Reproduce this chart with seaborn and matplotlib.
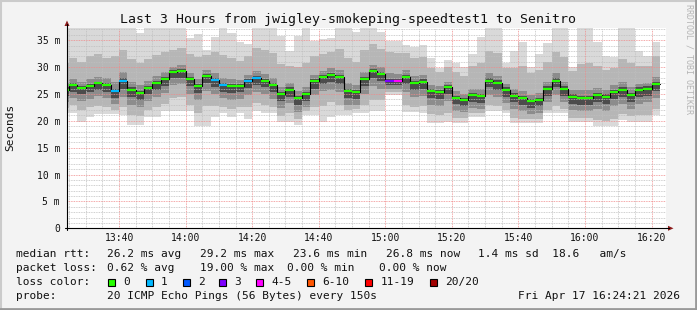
import numpy as np
import pandas as pd
import matplotlib
matplotlib.use("Agg")
import matplotlib.pyplot as plt
import seaborn as sns
from matplotlib.patches import Rectangle, Polygon
from matplotlib.ticker import FixedLocator

W, H, DPI = 697, 310, 100

# ---------------- data (milliseconds), one value per 150 s step -------------
step_minutes = 2.5            # 150 s
first_step_start = 22.5       # 13:22:30, minutes after 13:00
view_start, view_end = 24.35, 204.35   # 13:24:21 .. 16:24:21

median_ms = [25.77, 26.64, 26.14, 26.51, 26.96, 26.70, 25.58, 27.44, 25.77, 25.15,
             26.14, 27.01, 27.75, 29.06, 29.20, 27.76, 26.51, 28.37, 27.63, 26.70,
             26.51, 26.51, 27.44, 27.88, 27.44, 26.64, 24.97, 25.77, 24.28, 24.97,
             27.38, 28.13, 28.50, 28.13, 25.52, 25.34, 27.75, 29.20, 28.74, 27.38,
             27.38, 28.19, 27.01, 27.26, 25.58, 25.34, 26.27, 24.28, 23.91, 24.78,
             24.59, 27.44, 27.07, 25.77, 24.65, 24.28, 23.66, 23.91, 25.96, 27.44,
             25.96, 24.47, 24.28, 24.28, 24.78, 24.47, 25.40, 25.77, 24.78, 25.77,
             25.96, 26.89]

loss_count = [0, 0, 0, 0, 0, 0, 1, 1, 0, 0,
              0, 0, 0, 0, 0, 0, 0, 0, 1, 1,
              0, 0, 1, 1, 0, 0, 0, 0, 0, 0,
              0, 0, 0, 0, 0, 0, 0, 0, 0, 3,
              4, 0, 0, 0, 0, 0, 0, 0, 0, 0,
              0, 0, 0, 0, 0, 0, 0, 0, 0, 0,
              0, 0, 0, 0, 0, 0, 0, 0, 0, 0,
              0, 0]

hi_ms = [37.5, 37.5, 37.5, 37.5, 37.5, 37.5, 37.5, 37.5, 37.5, 36.4,
         37.5, 37.5, 37.5, 37.5, 37.5, 35.4, 36.2, 33.2, 35.6, 37.5,
         36.3, 34.6, 34.3, 37.5, 37.5, 37.5, 35.8, 33.0, 35.8, 37.5,
         34.8, 35.3, 35.4, 37.5, 37.5, 36.6, 37.5, 37.5, 36.6, 34.8,
         34.8, 34.1, 33.8, 34.1, 31.6, 29.8, 31.3, 30.7, 30.0, 32.5,
         35.6, 37.5, 37.5, 30.7, 33.0, 34.6, 30.0, 32.5, 34.4, 37.5,
         37.5, 30.0, 37.5, 37.5, 34.6, 32.0, 31.8, 37.5, 37.5, 33.0,
         32.0, 34.6]

lo_ms = [21.4, 21.4, 19.8, 20.7, 21.2, 21.3, 21.2, 21.0, 19.2, 19.2,
         20.7, 20.7, 21.8, 21.8, 21.8, 21.8, 19.0, 19.0, 20.7, 21.4,
         20.7, 21.4, 20.4, 21.8, 21.4, 21.4, 19.8, 19.8, 19.2, 21.0,
         21.0, 19.8, 20.7, 21.0, 21.0, 21.5, 21.5, 21.8, 21.8, 24.8,
         24.8, 21.6, 21.6, 21.4, 19.5, 19.5, 19.8, 19.5, 19.5, 20.7,
         20.7, 21.8, 21.8, 21.4, 19.5, 19.5, 19.5, 19.5, 21.4, 21.4,
         21.4, 19.8, 19.8, 19.8, 19.0, 19.0, 19.0, 20.2, 19.8, 19.8,
         19.8, 21.0]

a_hi_ms = [30.7, 31.6, 31.0, 32.1, 32.4, 31.7, 32.0, 33.2, 31.4, 30.8,
           31.4, 32.2, 32.7, 33.1, 33.5, 32.4, 31.8, 32.2, 32.8, 32.2,
           31.6, 31.2, 32.1, 33.6, 33.2, 32.6, 30.6, 30.1, 30.0, 30.8,
           32.0, 32.5, 32.8, 33.4, 31.6, 31.0, 33.2, 34.2, 33.4, 32.8,
           32.6, 32.6, 31.7, 31.9, 29.8, 29.1, 30.0, 29.0, 28.4, 30.1,
           30.7, 33.0, 32.6, 29.9, 29.8, 30.1, 28.8, 29.5, 31.0, 32.7,
           31.8, 29.2, 30.6, 30.8, 30.2, 29.4, 29.8, 31.4, 30.8, 30.2,
           30.2, 32.0]

b_hi_ms = [27.0, 27.8, 27.3, 27.7, 28.2, 27.9, 27.2, 29.0, 27.3, 26.6,
           27.4, 28.3, 29.0, 30.0, 30.3, 28.9, 27.8, 29.4, 28.8, 28.0,
           27.7, 27.6, 28.6, 29.2, 28.7, 28.0, 26.2, 27.0, 25.6, 26.3,
           28.6, 29.3, 29.8, 29.4, 27.0, 26.6, 29.1, 30.4, 30.0, 28.8,
           28.7, 29.4, 28.3, 28.5, 26.7, 26.4, 27.3, 25.5, 25.0, 26.0,
           25.9, 28.8, 28.4, 26.9, 25.9, 25.5, 24.8, 25.1, 27.3, 28.8,
           27.2, 25.7, 25.7, 25.8, 26.1, 25.7, 26.6, 27.2, 26.2, 26.9,
           27.1, 28.2]

c_hi_ms = [26.2, 27.0, 26.5, 26.9, 27.3, 27.1, 26.0, 27.9, 26.2, 25.6,
           26.5, 27.4, 28.1, 29.4, 29.6, 28.1, 26.9, 28.7, 28.0, 27.1,
           26.9, 26.9, 27.8, 28.3, 27.8, 27.0, 25.3, 26.2, 24.7, 25.4,
           27.8, 28.5, 28.9, 28.5, 26.0, 25.8, 28.2, 29.6, 29.1, 27.8,
           27.8, 28.6, 27.4, 27.7, 26.0, 25.7, 26.6, 24.7, 24.3, 25.2,
           25.0, 27.9, 27.5, 26.2, 25.1, 24.7, 24.1, 24.3, 26.4, 27.9,
           26.4, 24.9, 24.7, 24.7, 25.2, 24.9, 25.8, 26.2, 25.2, 26.2,
           26.4, 27.3]

c_lo_ms = [24.6, 25.4, 24.9, 25.3, 25.8, 25.4, 24.3, 25.9, 24.4, 23.9,
           24.9, 25.7, 26.4, 27.9, 28.0, 26.5, 25.1, 27.0, 26.3, 25.4,
           25.2, 25.3, 26.1, 26.6, 26.2, 25.3, 23.6, 24.5, 22.9, 23.7,
           26.0, 26.9, 27.2, 26.8, 24.2, 24.0, 26.4, 27.9, 27.4, 26.6,
           26.6, 26.9, 25.7, 26.0, 24.3, 24.1, 25.0, 23.1, 22.7, 23.5,
           23.3, 26.2, 25.8, 24.5, 23.4, 23.0, 22.4, 22.7, 24.7, 26.2,
           24.7, 23.2, 23.0, 23.0, 23.5, 23.2, 24.1, 24.5, 23.5, 24.5,
           24.7, 25.6]

b_lo_ms = [23.5, 24.2, 23.7, 24.1, 24.6, 24.3, 23.1, 24.4, 23.0, 22.6,
           23.6, 24.4, 25.1, 26.6, 26.8, 25.0, 23.8, 25.5, 25.0, 24.2,
           23.9, 24.1, 24.8, 25.3, 25.0, 24.0, 22.3, 23.3, 21.7, 22.6,
           24.8, 25.5, 25.8, 25.4, 23.0, 22.9, 25.0, 26.4, 26.0, 26.0,
           26.0, 25.3, 24.4, 24.6, 23.0, 22.8, 23.6, 21.9, 21.6, 22.3,
           22.1, 24.8, 24.5, 23.3, 22.2, 21.8, 21.3, 21.5, 23.4, 24.8,
           23.5, 22.0, 21.8, 21.8, 22.2, 21.9, 22.7, 23.2, 22.2, 23.2,
           23.4, 24.3]

a_lo_ms = [22.4, 22.9, 22.0, 22.5, 22.8, 22.6, 22.0, 22.6, 21.0, 20.8,
           22.0, 22.5, 23.2, 24.2, 24.4, 23.0, 21.4, 22.8, 22.8, 22.6,
           22.2, 22.5, 22.6, 23.3, 23.0, 22.6, 20.8, 21.4, 20.3, 21.8,
           22.6, 22.8, 23.4, 23.0, 22.0, 22.1, 23.0, 23.8, 23.8, 25.4,
           25.4, 23.0, 22.6, 22.8, 21.2, 21.0, 21.5, 20.6, 20.5, 21.4,
           21.4, 23.0, 22.8, 22.0, 20.6, 20.4, 20.3, 20.3, 22.0, 22.8,
           22.2, 20.6, 20.6, 20.5, 20.2, 20.0, 20.3, 21.2, 20.8, 21.0,
           21.0, 22.2]

x_tick_labels = ["13:40", "14:00", "14:20", "14:40", "15:00", "15:20", "15:40", "16:00", "16:20"]
x_tick_minutes = [40, 60, 80, 100, 120, 140, 160, 180, 200]   # minutes after 13:00
y_tick_values = [0, 5, 10, 15, 20, 25, 30, 35]

loss_legend = ["0", "1", "2", "3", "4-5", "6-10", "11-19", "20/20"]
loss_legend_colors = ["#26ff00", "#00b8ff", "#0059ff", "#7e00ff", "#ff00ff", "#ff5500", "#ff0000", "#a10000"]

title = "Last 3 Hours from jwigley-smokeping-speedtest1 to Senitro"
stats_rtt = [("median rtt:", 16), ("26.2 ms avg", 107.3), ("29.2 ms max", 200), ("23.6 ms min", 292.7),
             ("26.8 ms now", 385.7), ("1.4 ms sd  18.6   am/s", 478.3)]
stats_loss = [("packet loss:", 16), ("0.62 % avg", 107.3), ("19.00 % max", 200),
              ("0.00 % min", 286.7), ("0.00 % now", 379.3)]
probe_text = "20 ICMP Echo Pings (56 Bytes) every 150s"
date_text = "Fri Apr 17 16:24:21 2026"

# ---------------- figure ---------------------------------------------------
sns.set_style("white")
plt.rcParams['font.family'] = ['DejaVu Sans Mono', 'DejaVu Sans']

fig = plt.figure(figsize=(W / DPI, H / DPI), dpi=DPI, facecolor="#f3f3f3")
L, R, T, B = 67, 666, 28.3, 228.3
ax = fig.add_axes([L / W, 1 - B / H, (R - L) / W, (B - T) / H])
ax.set_facecolor("white")

n = len(median_ms)
starts = first_step_start + step_minutes * np.arange(n)
xs = np.append(starts, starts[-1] + step_minutes)

def ext(a):
    a = np.asarray(a, dtype=float)
    return np.append(a, a[-1])

bands = [(lo_ms, hi_ms, "#d9d9d9"), (a_lo_ms, a_hi_ms, "#b6b6b6"),
         (b_lo_ms, b_hi_ms, "#8c8c8c"), (c_lo_ms, c_hi_ms, "#4c4c4c")]
for lo, hi, col in bands:
    ax.fill_between(xs, ext(lo), ext(hi), step="post", color=col, lw=0, zorder=1)

df = pd.DataFrame({"t": xs, "median": ext(median_ms)})
sns.lineplot(data=df, x="t", y="median", drawstyle="steps-post", color="black",
             lw=0.8, ax=ax, zorder=3, legend=False)

def loss_col(c):
    if c == 0: return loss_legend_colors[0]
    if c == 1: return loss_legend_colors[1]
    if c == 2: return loss_legend_colors[2]
    if c == 3: return loss_legend_colors[3]
    if c <= 5: return loss_legend_colors[4]
    if c <= 10: return loss_legend_colors[5]
    if c <= 19: return loss_legend_colors[6]
    return loss_legend_colors[7]

ax.hlines(median_ms, starts, starts + step_minutes, colors=[loss_col(c) for c in loss_count],
          lw=1.6, zorder=4, capstyle="butt")

ax.set_xlim(view_start, view_end)
ax.set_ylim(0, 37.2)
ax.set_xlabel("")
ax.set_ylabel("")

ax.xaxis.set_major_locator(FixedLocator(x_tick_minutes))
ax.set_xticklabels(x_tick_labels)
ax.xaxis.set_minor_locator(FixedLocator(np.arange(25, 205, 5)))
ax.yaxis.set_major_locator(FixedLocator(y_tick_values))
ax.set_yticklabels([("0" if v == 0 else f"{v} m") for v in y_tick_values])
ax.yaxis.set_minor_locator(FixedLocator(np.arange(1, 38, 1)))

ax.set_axisbelow(False)
ax.grid(which="minor", color="#bfbfbf", linestyle=(0, (1, 1)), lw=0.6)
ax.grid(which="major", color="#f08a8a", linestyle=(0, (1, 1)), lw=0.6)
ax.tick_params(which="both", direction="out", length=2, width=0.5, color="#555555",
               labelsize=7, pad=3, labelcolor="#111111")
ax.tick_params(axis="x", which="major", pad=1.5)
for s in ["top", "right", "left", "bottom"]:
    ax.spines[s].set_visible(False)

# ---------------- overlay in pixel coordinates -------------------------------
ov = fig.add_axes([0, 0, 1, 1], facecolor="none")
ov.set_xlim(0, W)
ov.set_ylim(H, 0)
ov.axis("off")

ov.plot([L, L], [B + 2, 24], color="black", lw=0.8)
ov.plot([L - 2, 669], [B, B], color="black", lw=0.8)
ov.add_patch(Polygon([[L - 2.5, 26], [L + 2.5, 26], [L, 20.5]], closed=True, color="#8b1a1a", lw=0))
ov.add_patch(Polygon([[668, B - 2.5], [668, B + 2.5], [673.5, B]], closed=True, color="#8b1a1a", lw=0))

ov.text(348.5, 19, title, ha="center", va="center", fontsize=9.5, color="#111111")
ov.text(10, 127, "Seconds", rotation=90, ha="center", va="center", fontsize=8, color="#111111")
ov.text(688.5, 4, "RRDTOOL / TOBI OETIKER", rotation=-90, ha="center", va="top",
        fontsize=6, color="#b5b5b5")

fs = 8
for txt, x in stats_rtt:
    ov.text(x, 254.3, txt, ha="left", va="center", fontsize=fs, color="#111111")
for txt, x in stats_loss:
    ov.text(x, 268.3, txt, ha="left", va="center", fontsize=fs, color="#111111")
ov.text(16, 282.3, "loss color:", ha="left", va="center", fontsize=fs, color="#111111")
box_x = [108.3, 145.7, 182.7, 219.3, 256, 307.3, 365.3, 430.3]
for lab, col, bx in zip(loss_legend, loss_legend_colors, box_x):
    ov.add_patch(Rectangle((bx, 278.6), 7, 7, facecolor=col, edgecolor="black", lw=0.8))
    ov.text(bx + 15, 282.3, lab, ha="left", va="center", fontsize=fs, color="#111111")
ov.text(16, 296, "probe:", ha="left", va="center", fontsize=fs, color="#111111")
ov.text(107.3, 296, probe_text, ha="left", va="center", fontsize=fs, color="#111111")
ov.text(680, 296, date_text, ha="right", va="center", fontsize=fs, color="#111111")

ov.plot([0, W], [0.8, 0.8], color="#cbcbcb", lw=1.5)
ov.plot([0.8, 0.8], [0, H], color="#cbcbcb", lw=1.5)
ov.plot([0, W], [H - 1.2, H - 1.2], color="#999999", lw=2)
ov.plot([W - 1.2, W - 1.2], [0, H], color="#999999", lw=2)

fig.savefig("out.png", dpi=DPI, facecolor=fig.get_facecolor())
